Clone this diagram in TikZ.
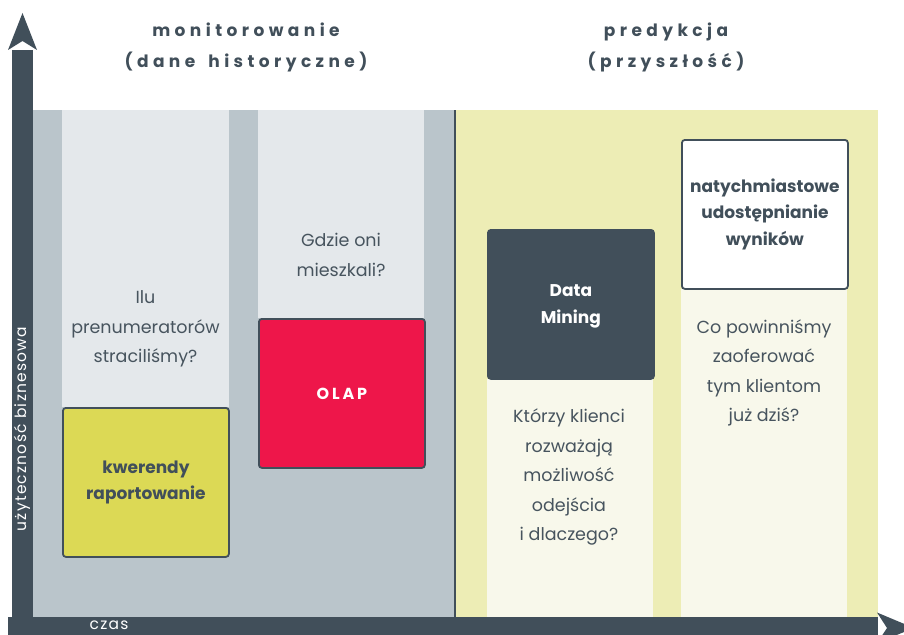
\documentclass[tikz,border=0pt]{standalone}
\usepackage{fontspec}
\setmainfont{Poppins}
\newfontfamily\titlefont[LetterSpace=26]{Poppins}
\newfontfamily\boldspaced[LetterSpace=18]{Poppins}
\newfontfamily\axisfont[LetterSpace=8]{Poppins}
\definecolor{dk}{HTML}{414F5A}
\definecolor{graybg}{HTML}{BAC5CB}
\definecolor{lightcol}{HTML}{E4E8EB}
\definecolor{yel}{HTML}{EDEDB5}
\definecolor{lyel}{HTML}{F8F8EB}
\definecolor{kwc}{HTML}{DCD955}
\definecolor{olapc}{HTML}{EE164A}
\definecolor{tx}{HTML}{47545E}
\tikzset{
  box/.style={draw=dk, line width=1.8pt, rounded corners=3pt, minimum width=166pt, minimum height=149pt, inner sep=0pt, anchor=north west},
  body/.style={text=tx, font=\fontsize{17.5}{29.5}\selectfont, align=center, inner sep=0pt},
  boxlbl/.style={font=\bfseries\fontsize{17}{26.5}\selectfont, align=center},
  ttl/.style={text=dk, font=\titlefont\bfseries\fontsize{17}{31}\selectfont, align=center, inner sep=0pt},
  axislbl/.style={text=white, font=\axisfont\fontsize{15.5}{17}\selectfont, inner sep=0pt},
}
\begin{document}
\begin{tikzpicture}[x=1pt,y=-1pt]
\useasboundingbox (0,0) rectangle (904,634);
\clip (0,0) rectangle (904,634);
% monitoring region
\fill[graybg] (33,110) rectangle (455,617);
\fill[lightcol] (62,110) rectangle (229,407);
\fill[lightcol] (258,110) rectangle (424,318);
% prediction region
\fill[yel] (455,110) rectangle (878,617);
\fill[lyel] (487,379) rectangle (653,617);
\fill[lyel] (681,289) rectangle (847,617);
\draw[dk, line width=2.5pt] (455,110) -- (455,617);
% axes
\fill[dk] (12,50) rectangle (33,634);
\fill[dk] (8,50) -- (22.5,13) -- (37,50) -- (22.5,41) -- cycle;
\fill[dk] (8,617) rectangle (878,640);
\fill[dk] (877,612.5) -- (914,628) -- (877,643) -- (887,628) -- cycle;
\node[axislbl] (czas) at (109,625) {czas};
\node[axislbl, rotate=90] (uzyt) at (22,429) {użyteczność biznesowa};
% titles
\node[ttl] (t1) at (246,47) {monitorowanie\\(dane\hspace{5pt} historyczne)};
\node[ttl] (t2) at (666,47) {predykcja\\(przyszłość)};
% boxes
\node[box, fill=kwc] (kw) at (62,407) {};
\node[boxlbl, text=dk] at (kw.center) {kwerendy\\raportowanie};
\node[box, fill=olapc] (olap) at (258,318) {};
\node[text=white, font=\boldspaced\bfseries\fontsize{16}{20}\selectfont] at (olap.center) {OLAP};
\node[box, fill=dk] (dm) at (487,229) {};
\node[boxlbl, text=white] at ([yshift=-2pt]dm.center) {Data\\Mining};
\node[box, fill=white] (nat) at (681,139) {};
\node[boxlbl, text=dk] at (nat.center) {natychmiastowe\\udostępnianie\\wyników};
% questions
\node[body] (q1) at (145.5,329) {Ilu\\prenumeratorów\\straciliśmy?};
\node[body] (q2) at (341,255) {Gdzie oni\\mieszkali?};
\node[body] (q3) at (569,477) {Którzy klienci\\rozważają\\możliwość\\odejścia\\i dlaczego?};
\node[body] (q4) at (764,373) {Co powinniśmy\\zaoferować\\tym klientom\\już dziś?};
\end{tikzpicture}
\end{document}
